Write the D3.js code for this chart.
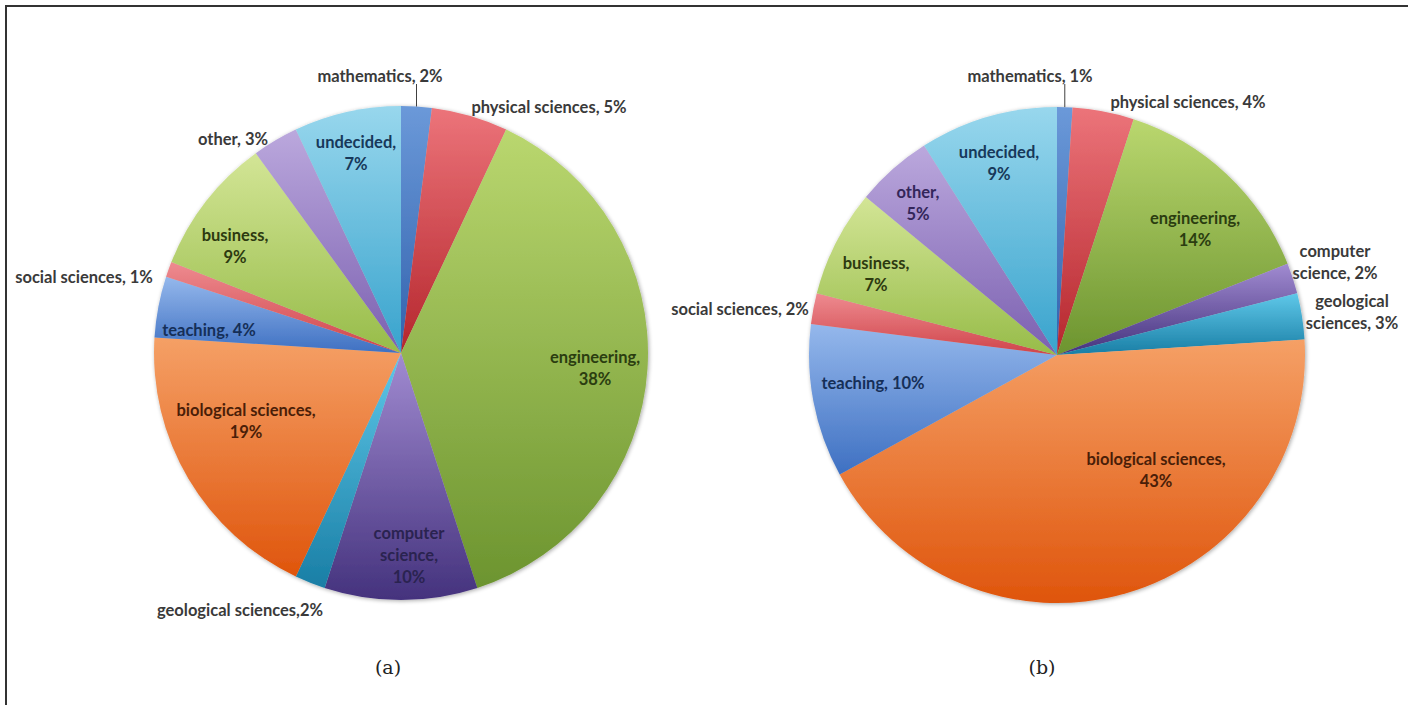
<!DOCTYPE html>
<html>
<head>
<meta charset="utf-8">
<script src="https://cdn.jsdelivr.net/npm/d3@7"></script>
<style>
  html, body { margin: 0; padding: 0; background: #fff; }
  svg { display: block; }
</style>
</head>
<body>
<svg id="chart" width="1408" height="705"></svg>
<script>
// ---- data ----
const categories = ["mathematics", "physical sciences", "engineering", "computer science",
  "geological sciences", "biological sciences", "teaching", "social sciences",
  "business", "other", "undecided"];
const valuesA = [2, 5, 38, 10, 2, 19, 4, 1, 9, 3, 7];
const valuesB = [1, 4, 14, 2, 3, 43, 10, 2, 7, 5, 9];
const panelNames = ["(a)", "(b)"];

// label text, one entry per line; {v} is replaced by the slice value
const labelTextA = [
  ["mathematics, {v}%"], ["physical sciences, {v}%"], ["engineering,", "{v}%"],
  ["computer", "science,", "{v}%"], ["geological sciences,{v}%"], ["biological sciences,", "{v}%"],
  ["teaching, {v}%"], ["social sciences, {v}%"], ["business,", "{v}%"],
  ["other, {v}%"], ["undecided,", "{v}%"]
];
const labelTextB = [
  ["mathematics, {v}%"], ["physical sciences, {v}%"], ["engineering,", "{v}%"],
  ["computer", "science, {v}%"], ["geological", "sciences, {v}%"], ["biological sciences,", "{v}%"],
  ["teaching, {v}%"], ["social sciences, {v}%"], ["business,", "{v}%"],
  ["other,", "{v}%"], ["undecided,", "{v}%"]
];

// ---- layout & style ----
const W = 1408, H = 705;
const pies = [
  { values: valuesA, text: labelTextA, cx: 401, cy: 353, r: 247, name: panelNames[0], nameX: 388,
    // label block centres, offset from pie centre
    at: [[-21, -277], [148, -246], [194, 15], [8, 202], [-161, 257], [-155, 68],
         [-192, -23], [-317, -76], [-166, -107], [-168, -214], [-45, -200]],
    outside: [true, true, false, false, true, false, false, true, false, true, false] },
  { values: valuesB, text: labelTextB, cx: 1057, cy: 355, r: 248, name: panelNames[1], nameX: 1042,
    at: [[-27, -279], [131, -253], [138, -126], [278, -93], [295, -43], [99, 115],
         [-184, 28], [-317, -46], [-181, -81], [-139, -152], [-58, -192]],
    outside: [true, true, false, true, true, false, false, true, false, false, false] }
];

// top (light) and bottom (dark) gradient stops per category
const gradTop = ["#6b99d9", "#ec747a", "#bad76f", "#a18bd1", "#5fc8e9", "#f5a066",
                 "#95b8ec", "#ee8b90", "#d3e596", "#bba8dd", "#98d7ed"];
const gradBot = ["#3262ad", "#b5262d", "#6c942f", "#44327d", "#197ea5", "#df550c",
                 "#3e70c2", "#cf444a", "#97bc49", "#7b60b0", "#38a3cd"];
const insideInk = ["#17315a", "#5a1416", "#2b3d10", "#2a2350", "#0f3f52", "#4a1e08",
                   "#152f58", "#5a1416", "#2d3a10", "#33265a", "#17385a"];

const LINE_H = 22;

const svg = d3.select("#chart");
const defs = svg.append("defs");

const shadow = defs.append("filter").attr("id", "pieShadow")
  .attr("x", "-10%").attr("y", "-10%").attr("width", "120%").attr("height", "120%");
shadow.append("feGaussianBlur").attr("in", "SourceAlpha").attr("stdDeviation", 2).attr("result", "b");
shadow.append("feOffset").attr("in", "b").attr("dx", 1).attr("dy", 1).attr("result", "o");
shadow.append("feComponentTransfer").attr("in", "o").attr("result", "s")
  .append("feFuncA").attr("type", "linear").attr("slope", 0.35);
const merge = shadow.append("feMerge");
merge.append("feMergeNode").attr("in", "s");
merge.append("feMergeNode").attr("in", "SourceGraphic");

categories.forEach((c, i) => {
  const g = defs.append("linearGradient").attr("id", "grad" + i)
    .attr("x1", 0).attr("y1", 0).attr("x2", 0).attr("y2", 1);
  g.append("stop").attr("offset", "0%").attr("stop-color", gradTop[i]);
  g.append("stop").attr("offset", "100%").attr("stop-color", gradBot[i]);
});

// frame: top and left rules
svg.append("line").attr("x1", 5).attr("y1", 6).attr("x2", W).attr("y2", 6)
  .attr("stroke", "#333").attr("stroke-width", 2);
svg.append("line").attr("x1", 6).attr("y1", 5).attr("x2", 6).attr("y2", H)
  .attr("stroke", "#333").attr("stroke-width", 2);

const pie = d3.pie().sort(null).value(d => d.v);

pies.forEach(p => {
  const data = categories.map((c, i) => ({ c, v: p.values[i], i }));
  const arcs = pie(data);
  const arc = d3.arc().innerRadius(0).outerRadius(p.r);

  const g = svg.append("g").attr("transform", `translate(${p.cx},${p.cy})`);
  const slices = g.append("g").attr("filter", "url(#pieShadow)");
  slices.selectAll("path").data(arcs).join("path")
    .attr("d", arc)
    .attr("fill", d => `url(#grad${d.data.i})`);

  // leader line for the first (smallest top) slice
  const m = arcs[0];
  const mid = (m.startAngle + m.endAngle) / 2;
  const lx = p.r * Math.sin(mid);
  g.append("line")
    .attr("x1", lx).attr("y1", -p.r * Math.cos(mid))
    .attr("x2", lx).attr("y2", p.at[0][1] + 8)
    .attr("stroke", "#404040").attr("stroke-width", 1);

  const labels = g.append("g")
    .attr("font-family", "Lato, 'Open Sans', sans-serif")
    .attr("font-weight", 700)
    .attr("font-size", 16.5)
    .attr("text-anchor", "middle");

  arcs.forEach((a, k) => {
    const lines = p.text[k].map(s => s.replace("{v}", a.data.v));
    const [dx, dy] = p.at[k];
    const t = labels.append("text")
      .attr("fill", p.outside[k] ? "#3a3a3a" : insideInk[k]);
    const y0 = dy - (lines.length - 1) * LINE_H / 2;
    lines.forEach((s, j) => {
      t.append("tspan").attr("x", dx).attr("y", y0 + j * LINE_H)
        .attr("dominant-baseline", "central").text(s);
    });
  });

  svg.append("text")
    .attr("x", p.nameX).attr("y", 667)
    .attr("dominant-baseline", "central")
    .attr("text-anchor", "middle")
    .attr("font-family", "'DejaVu Serif', 'Liberation Serif', serif")
    .attr("font-size", 19)
    .attr("fill", "#222")
    .text(p.name);
});
</script>
</body>
</html>
